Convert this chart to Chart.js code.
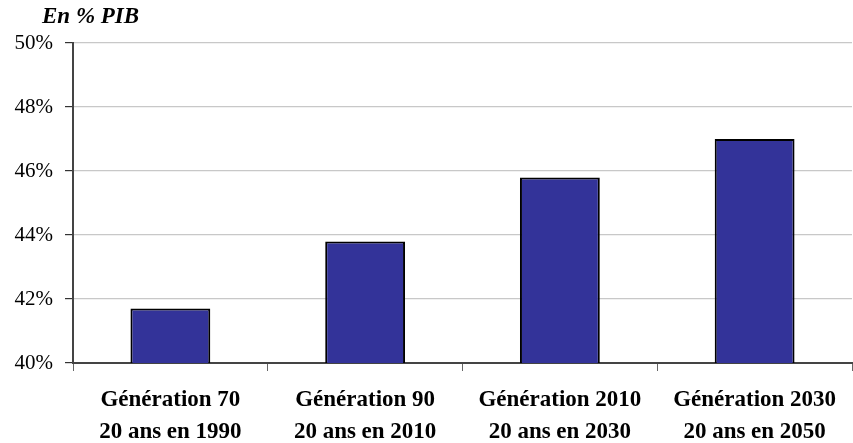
<!DOCTYPE html>
<html><head><meta charset="utf-8">
<script src="https://cdn.jsdelivr.net/npm/chart.js@4"></script>
<style>html,body{margin:0;padding:0;background:#fff}#wrap{width:853px;height:443px}</style>
</head><body><div id="wrap"><canvas id="c" width="853" height="443"></canvas></div>
<script>
const categories = [["Génération 70","20 ans en 1990"],["Génération 90","20 ans en 2010"],["Génération 2010","20 ans en 2030"],["Génération 2030","20 ans en 2050"]];
const values = [41.7, 43.8, 45.8, 47.0];
const yTicks = [40, 42, 44, 46, 48, 50];
const unitLabel = "En % PIB";

const titlePlugin = {
  id: 'unitTitle',
  afterDraw(chart) {
    const ctx = chart.ctx;
    ctx.save();
    ctx.font = 'italic bold 23px "Liberation Serif"';
    ctx.fillStyle = '#000';
    ctx.textBaseline = 'alphabetic';
    ctx.fillText(unitLabel, 42, 23);
    ctx.restore();
  }
};

new Chart(document.getElementById('c'), {
  type: 'bar',
  data: {
    labels: categories,
    datasets: [{
      data: values,
      backgroundColor: '#333399',
      borderColor: '#000',
      borderWidth: 2,
      borderSkipped: false,
      categoryPercentage: 1,
      barPercentage: 0.41
    }]
  },
  options: {
    responsive: false,
    animation: false,
    devicePixelRatio: 1,
    layout: { padding: { top: 43, right: 1, left: 0, bottom: 0 } },
    plugins: { legend: { display: false }, tooltip: { enabled: false } },
    scales: {
      x: {
        afterFit(s) { s.height = 80; },
        grid: { display: true, drawOnChartArea: false, offset: true, tickLength: 8, color: '#666', tickColor: '#666' },
        border: { display: true, color: '#444', width: 2 },
        ticks: { color: '#000', padding: 13, maxRotation: 0, autoSkip: false,
          font: { family: '"Liberation Serif"', size: 23, weight: 'bold', lineHeight: 1.4 } }
      },
      y: {
        min: 40, max: 50,
        afterFit(s) { s.width = 73; },
        afterBuildTicks(s) { s.ticks = yTicks.map(v => ({ value: v })); },
        grid: { color: '#c8c8c8', tickColor: '#333', tickLength: 8, lineWidth: 1.2 },
        border: { display: true, color: '#444', width: 2 },
        ticks: { color: '#000', padding: 12, callback: v => v + '%',
          font: { family: '"Liberation Serif"', size: 21 } }
      }
    }
  },
  plugins: [titlePlugin]
});
</script></body></html>
